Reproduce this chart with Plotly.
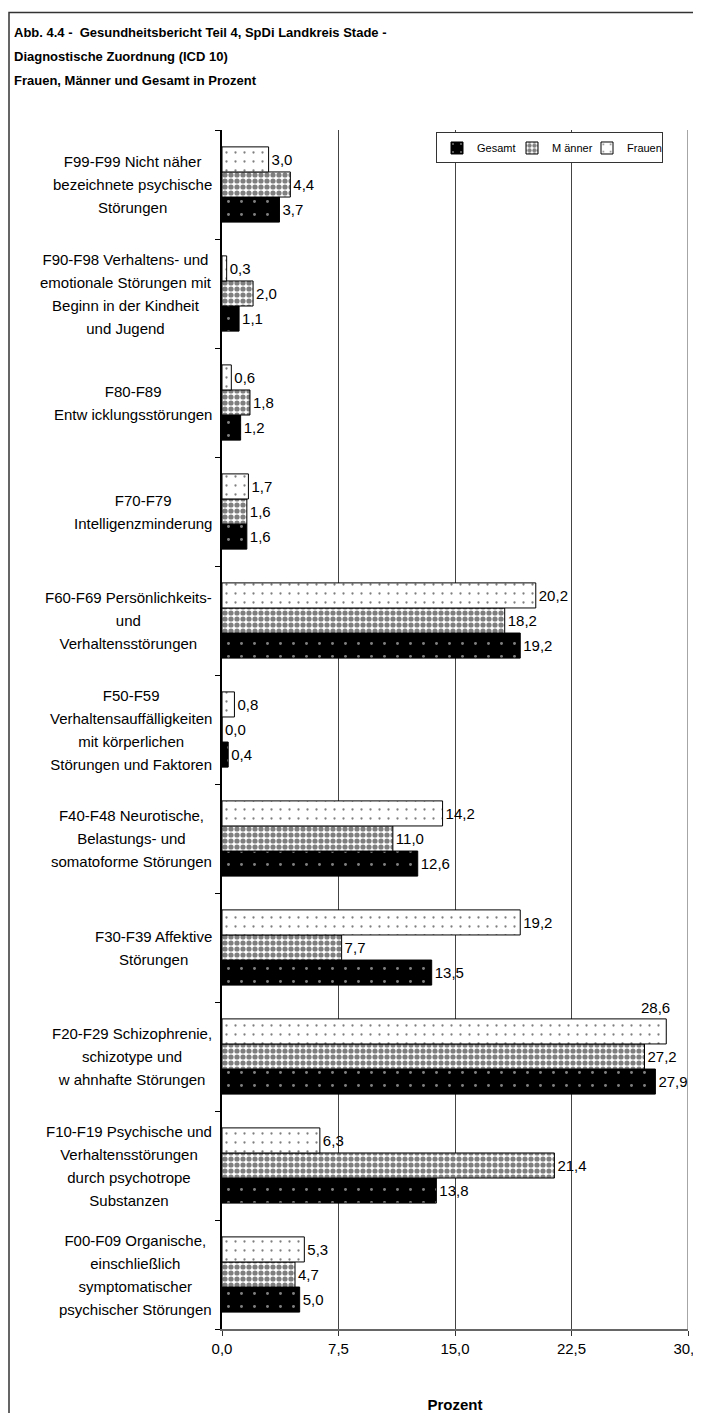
import plotly.graph_objects as go

# categories, bottom to top (F00 first)
categories = [
    "F00", "F10", "F20", "F30", "F40", "F50",
    "F60", "F70", "F80", "F90", "F99",
]
category_labels = [
    ["F00-F09 Organische,", "einschließlich", "symptomatischer", "psychischer Störungen"],
    ["F10-F19 Psychische und", "Verhaltensstörungen", "durch psychotrope", "Substanzen"],
    ["F20-F29 Schizophrenie,", "schizotype und", "w ahnhafte Störungen"],
    ["F30-F39 Affektive", "Störungen"],
    ["F40-F48 Neurotische,", "Belastungs- und", "somatoforme Störungen"],
    ["F50-F59", "Verhaltensauffälligkeiten", "mit körperlichen", "Störungen und Faktoren"],
    ["F60-F69 Persönlichkeits-", "und", "Verhaltensstörungen"],
    ["F70-F79", "Intelligenzminderung"],
    ["F80-F89", "Entw icklungsstörungen"],
    ["F90-F98 Verhaltens- und", "emotionale Störungen mit", "Beginn in der Kindheit", "und Jugend"],
    ["F99-F99 Nicht näher", "bezeichnete psychische", "Störungen"],
]
gesamt = [5.0, 13.8, 27.9, 13.5, 12.6, 0.4, 19.2, 1.6, 1.2, 1.1, 3.7]
maenner = [4.7, 21.4, 27.2, 7.7, 11.0, 0.0, 18.2, 1.6, 1.8, 2.0, 4.4]
frauen = [5.3, 6.3, 28.6, 19.2, 14.2, 0.8, 20.2, 1.7, 0.6, 0.3, 3.0]
x_ticks = [0, 7.5, 15, 22.5, 30]

title_lines = [
    "Abb. 4.4 -  Gesundheitsbericht Teil 4, SpDi Landkreis Stade -",
    "Diagnostische Zuordnung (ICD 10)",
    "Frauen, Männer und Gesamt in Prozent",
]

# the page adds an 8px body margin, so the figure is sized to fit the window
W, H = 693, 1405
L, R, T, B = 214, 13, 121.5, 84
PW, PH = W - L - R, H - T - B
FONT = "Liberation Sans, Arial, sans-serif"


def px_x(p):
    return (p - L) / PW


def px_y(p):
    return (H - B - p) / PH


series = [
    ("Gesamt", gesamt, dict(shape=".", bgcolor="black", fgcolor="white", size=13, solidity=0.04)),
    ("M änner", maenner, dict(shape=".", bgcolor="white", fgcolor="black", size=6, solidity=0.6)),
    ("Frauen", frauen, dict(shape=".", bgcolor="white", fgcolor="black", size=9, solidity=0.05)),
]

# labels that do not fit at the right edge are lifted above their bar
too_wide = 28.0

fig = go.Figure()
for name, vals, pat in series:
    labels = ["" if v > too_wide else f"{v:.1f}".replace(".", ",") for v in vals]
    fig.add_trace(go.Bar(
        y=categories, x=vals, orientation="h", name=name,
        marker=dict(color=pat["bgcolor"], pattern=pat,
                    line=dict(color="black", width=1)),
        text=labels, textposition="outside",
        textfont=dict(size=15, color="black", family=FONT),
        cliponaxis=False, constraintext="none",
    ))
    for cat, v in zip(categories, vals):
        if v > too_wide:
            fig.add_annotation(
                x=v, y=cat, xref="x", yref="y", text=f"{v:.1f}".replace(".", ","),
                showarrow=False, xanchor="right", yanchor="bottom",
                xshift=6, yshift=39,
                font=dict(size=15, color="black", family=FONT),
            )

# category labels, centred lines with Excel-like spacing
for cat, lines in zip(categories, category_labels):
    txt = "<br>".join(f"<span style='font-size:15px'>{s}</span>" for s in lines)
    fig.add_annotation(
        x=0, xref="paper", y=cat, yref="y", text=txt, showarrow=False,
        xanchor="right", yanchor="middle", align="center", xshift=-8,
        font=dict(size=17.7, color="black", family=FONT),
    )

# title block
title_txt = "<br>".join(f"<span style='font-size:13px'><b>{s}</b></span>" for s in title_lines)
fig.add_annotation(
    x=px_x(4), xref="paper", y=px_y(14), yref="paper", text=title_txt,
    showarrow=False, xanchor="left", yanchor="top", align="left",
    font=dict(size=18.5, color="black", family=FONT),
)

# outer frame (clipped at right and bottom, as in the original)
fig.add_shape(type="rect", xref="paper", yref="paper",
              x0=px_x(1), x1=px_x(740), y0=px_y(1460), y1=px_y(4),
              line=dict(color="#333", width=1.5), fillcolor="rgba(0,0,0,0)",
              layer="below")

# gridline at the end of the value axis
fig.add_shape(type="line", xref="x", yref="paper",
              x0=x_ticks[-1], x1=x_ticks[-1], y0=0, y1=1,
              line=dict(color="#888", width=1.5), layer="below")

fig.update_layout(
    width=W, height=H,
    margin=dict(l=L, r=R, t=T, b=B, pad=0, autoexpand=False),
    paper_bgcolor="white", plot_bgcolor="white",
    font=dict(family=FONT, color="black"),
    separators=",.",
    barmode="group", bargap=0.31, bargroupgap=0,
    showlegend=True,
    legend=dict(
        orientation="h", x=px_x(655), y=px_y(124), xanchor="right", yanchor="top",
        bgcolor="white", bordercolor="#333", borderwidth=1,
        font=dict(size=11, family=FONT), itemwidth=30, traceorder="normal",
        entrywidth=30, tracegroupgap=0,
    ),
    xaxis=dict(
        range=[0, 30], tickvals=x_ticks, tickformat=".1f", automargin=False,
        ticklabeloverflow="allow",
        showgrid=True, gridcolor="#444", gridwidth=1, zeroline=False,
        showline=True, linecolor="#666", linewidth=1.5,
        ticks="outside", ticklen=5, tickcolor="#333",
        tickfont=dict(size=15),
        title=dict(text="<b>Prozent</b>", font=dict(size=15), standoff=48),
    ),
    yaxis=dict(
        type="category", categoryorder="array", categoryarray=categories,
        automargin=False,
        showticklabels=False, showgrid=False, zeroline=False,
        showline=True, linecolor="black", linewidth=1.5,
        ticks="outside", ticklen=5, tickson="boundaries", tickcolor="black",
    ),
)

fig.write_html("out.html")
